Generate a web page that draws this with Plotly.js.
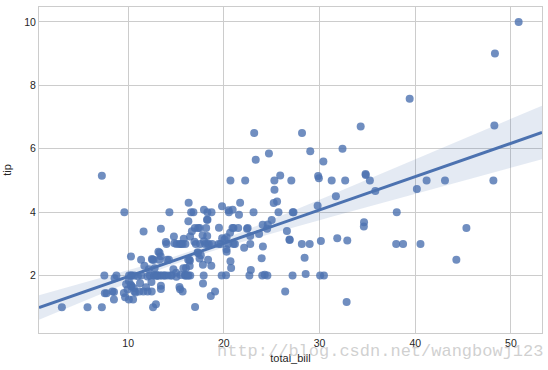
<!DOCTYPE html>
<html>
<head>
<meta charset="utf-8">
<script src="https://cdn.plot.ly/plotly-3.0.1.min.js"></script>
<style>html,body{margin:0;padding:0;background:#fff;}#chart{width:548px;height:370px;}</style>
</head>
<body>
<div id="chart"></div>
<script>
const total_bill = [16.99,10.34,21.01,23.68,24.59,25.29,8.77,26.88,15.04,14.78,10.27,35.26,15.42,18.43,14.83,21.58,10.33,16.29,16.97,20.65,17.92,20.29,15.77,39.42,19.82,17.81,13.37,12.69,21.7,19.65,9.55,18.35,15.06,20.69,17.78,24.06,16.31,16.93,18.69,31.27,16.04,17.46,13.94,9.68,30.4,18.29,22.23,32.4,28.55,18.04,12.54,10.29,34.81,9.94,25.56,19.49,38.01,26.41,11.24,48.27,20.29,13.81,11.02,18.29,17.59,20.08,16.45,3.07,20.23,15.01,12.02,17.07,26.86,25.28,14.73,10.51,17.92,27.2,22.76,17.29,19.44,16.66,10.07,32.68,15.98,34.83,13.03,18.28,24.71,21.16,28.97,22.49,5.75,16.32,22.75,40.17,27.28,12.03,21.01,12.46,11.35,15.38,44.3,22.42,20.92,15.36,20.49,25.21,18.24,14.31,14.0,7.25,38.07,23.95,25.71,17.31,29.93,10.65,12.43,24.08,11.69,13.42,14.26,15.95,12.48,29.8,8.52,14.52,11.38,22.82,19.08,20.27,11.17,12.26,18.26,8.51,10.33,14.15,16.0,13.16,17.47,34.3,41.19,27.05,16.43,8.35,18.64,11.87,9.78,7.51,14.07,13.13,17.26,24.55,19.77,29.85,48.17,25.0,13.39,16.49,21.5,12.66,16.21,13.81,17.51,24.52,20.76,31.71,10.59,10.63,50.81,15.81,7.25,31.85,16.82,32.9,17.89,14.48,9.6,34.63,34.65,23.33,45.35,23.17,40.55,20.69,20.9,30.46,18.15,23.1,15.69,19.81,28.44,15.48,16.58,7.56,10.34,43.11,13.0,13.51,18.71,12.74,13.0,16.4,20.53,16.47,26.59,38.73,24.27,12.76,30.06,25.89,48.33,13.27,28.17,12.9,28.15,11.59,7.74,30.14,12.16,13.42,8.58,15.98,13.42,16.27,10.09,20.45,13.28,22.12,24.01,15.69,11.61,10.77,15.53,10.07,12.6,32.83,35.83,29.03,27.18,22.67,17.82,18.78];
const tip = [1.01,1.66,3.5,3.31,3.61,4.71,2.0,3.12,1.96,3.23,1.71,5.0,1.57,3.0,3.02,3.92,1.67,3.71,3.5,3.35,4.08,2.75,2.23,7.58,3.18,2.34,2.0,2.0,4.3,3.0,1.45,2.5,3.0,2.45,3.27,3.6,2.0,3.07,2.31,5.0,2.24,2.54,3.06,1.32,5.6,3.0,5.0,6.0,2.05,3.0,2.5,2.6,5.2,1.56,4.34,3.51,3.0,1.5,1.76,6.73,3.21,2.0,1.98,3.76,2.64,3.15,2.47,1.0,2.01,2.09,1.97,3.0,3.14,5.0,2.2,1.25,3.08,4.0,3.0,2.71,3.0,3.4,1.83,5.0,2.03,5.17,2.0,4.0,5.85,3.0,3.0,3.5,1.0,4.3,3.25,4.73,4.0,1.5,3.0,1.5,2.5,3.0,2.5,3.48,4.08,1.64,4.06,4.29,3.76,4.0,3.0,1.0,4.0,2.55,4.0,3.5,5.07,1.5,1.8,2.92,2.31,1.68,2.5,2.0,2.52,4.2,1.48,2.0,2.0,2.18,1.5,2.83,1.5,2.0,3.25,1.25,2.0,2.0,2.0,2.75,3.5,6.7,5.0,5.0,2.3,1.5,1.36,1.63,1.73,2.0,2.5,2.0,2.74,2.0,2.0,5.14,5.0,3.75,2.61,2.0,3.5,2.5,2.0,2.0,3.0,3.48,2.24,4.5,1.61,2.0,10.0,3.16,5.15,3.18,4.0,3.11,2.0,2.0,4.0,3.55,3.68,5.65,3.5,6.5,3.0,5.0,3.5,2.0,3.5,4.0,1.5,4.19,2.56,2.02,4.0,1.44,2.0,5.0,2.0,2.0,4.0,2.01,2.0,2.5,4.0,3.23,3.41,3.0,2.03,2.23,2.0,5.16,9.0,2.5,6.5,1.1,3.0,1.5,1.44,3.09,2.2,3.48,1.92,3.0,1.58,2.5,2.0,3.0,2.72,2.88,2.0,3.0,3.39,1.47,3.0,1.25,1.0,1.17,4.67,5.92,2.0,2.0,1.75,3.0];
const xTicks = [10,20,30,40,50];
const yTicks = [2,4,6,8,10];

// least-squares fit with heteroscedasticity-robust (bootstrap-like) CI
const n = total_bill.length;
let mx=0,my=0; for(let i=0;i<n;i++){mx+=total_bill[i];my+=tip[i];} mx/=n; my/=n;
let sxx=0,sxy=0; for(let i=0;i<n;i++){sxx+=(total_bill[i]-mx)**2; sxy+=(total_bill[i]-mx)*(tip[i]-my);}
const b1=sxy/sxx, b0=my-b1*mx;
let s1=n,sx=0,sx2=0; for(let i=0;i<n;i++){sx+=total_bill[i];sx2+=total_bill[i]**2;}
const det=s1*sx2-sx*sx; const A=[[sx2/det,-sx/det],[-sx/det,s1/det]];
let M=[[0,0],[0,0]];
for(let i=0;i<n;i++){const e=tip[i]-(b0+b1*total_bill[i]); const e2=e*e; const xi=total_bill[i];
 M[0][0]+=e2; M[0][1]+=e2*xi; M[1][0]+=e2*xi; M[1][1]+=e2*xi*xi;}
function mm(P,Q){return [[P[0][0]*Q[0][0]+P[0][1]*Q[1][0],P[0][0]*Q[0][1]+P[0][1]*Q[1][1]],[P[1][0]*Q[0][0]+P[1][1]*Q[1][0],P[1][0]*Q[0][1]+P[1][1]*Q[1][1]]];}
const V=mm(mm(A,M),A);
const xr=[0.68,53.25];
const gx=[],gy=[],lo=[],hi=[];
for(let k=0;k<=100;k++){const x=xr[0]+(xr[1]-xr[0])*k/100; const y=b0+b1*x;
 const se=Math.sqrt(V[0][0]+2*x*V[0][1]+x*x*V[1][1]); gx.push(x); gy.push(y); lo.push(y-1.96*se); hi.push(y+1.96*se);}

const blue='#4C72B0';
const traces=[
 {x:gx,y:lo,mode:'lines',line:{width:0},hoverinfo:'skip',showlegend:false},
 {x:gx,y:hi,mode:'lines',line:{width:0},fill:'tonexty',fillcolor:'rgba(76,114,176,0.15)',hoverinfo:'skip',showlegend:false},
 {x:total_bill,y:tip,mode:'markers',marker:{color:blue,size:8,opacity:0.8,line:{width:0}},showlegend:false},
 {x:gx,y:gy,mode:'lines',line:{color:blue,width:3},showlegend:false}
];
const axisCommon={showgrid:true,gridcolor:'#cccccc',gridwidth:1,zeroline:false,showline:true,linecolor:'#cccccc',linewidth:1,mirror:true,ticks:'',tickfont:{family:'Arial, Liberation Sans, sans-serif',size:10.5,color:'#262626'}};
const layout={
 width:548,height:370,margin:{l:39,r:6,t:7,b:37},paper_bgcolor:'#fff',plot_bgcolor:'#fff',
 xaxis:Object.assign({},axisCommon,{range:xr,tickvals:xTicks,ticktext:xTicks.map(String),title:{text:'total_bill',standoff:6,font:{family:'Arial, Liberation Sans, sans-serif',size:11,color:'#262626'}}}),
 yaxis:Object.assign({},axisCommon,{range:[0.19,10.47],tickvals:yTicks,ticktext:yTicks.map(String),title:{text:'tip',standoff:10,font:{family:'Arial, Liberation Sans, sans-serif',size:11,color:'#262626'}}}),
 annotations:[{text:'http://blog.csdn.net/wangbowj123',xref:'paper',yref:'paper',x:1.005,y:-0.022,xanchor:'right',yanchor:'top',showarrow:false,font:{family:'Liberation Mono, DejaVu Sans Mono, monospace',size:17,color:'rgba(200,200,200,0.85)'}}]
};
Plotly.newPlot('chart',traces,layout,{displayModeBar:false,staticPlot:true});
</script>
</body>
</html>
